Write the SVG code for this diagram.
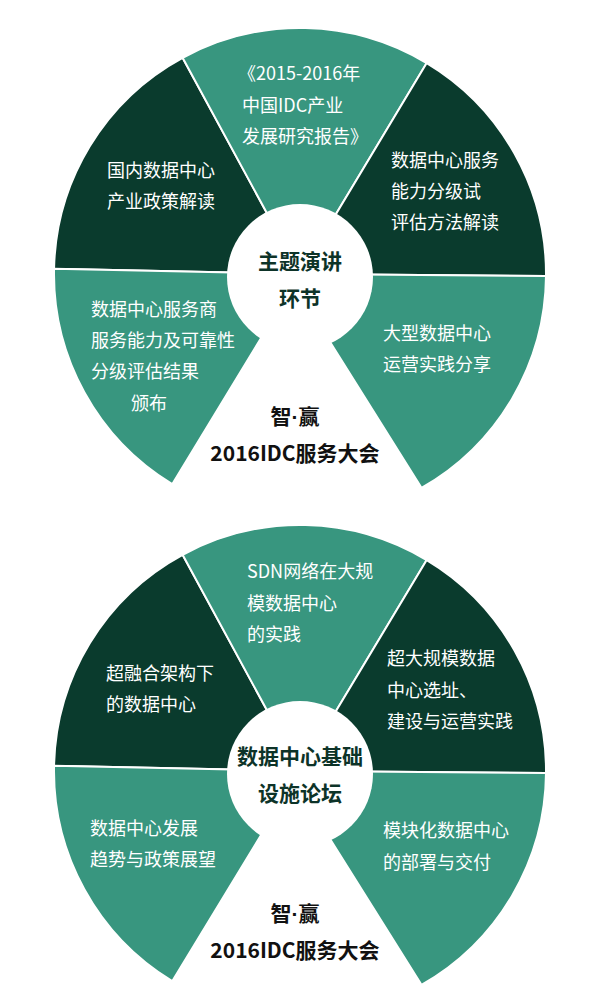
<svg xmlns="http://www.w3.org/2000/svg" width="600" height="1000" viewBox="0 0 600 1000">
<style>
.dark{fill:#0a3b2d;stroke:#fff;stroke-width:2;stroke-linejoin:round}
.teal{fill:#38967f;stroke:#fff;stroke-width:2;stroke-linejoin:round}
.hub{fill:#fff}
.lbl{font-family:"Noto Sans CJK SC","Noto Sans",sans-serif;font-size:18px;fill:#fff}
.hubt{font-family:"Noto Sans CJK SC","Noto Sans",sans-serif;font-size:21px;font-weight:bold;fill:#0d3328;text-anchor:middle}
.title{font-family:"Noto Sans CJK SC","Noto Sans",sans-serif;font-size:21px;font-weight:bold;fill:#111;text-anchor:middle}
.dot{font-family:"Liberation Sans",sans-serif}
</style>
<defs>
<path id="sTL" d="M300,274 L54.05,268.85 A246,246 0 0 1 182.6,57.8 Z"/>
<path id="sT" d="M300,274 L182.6,57.8 A246,246 0 0 1 426.7,63.1 Z"/>
<path id="sTR" d="M300,274 L426.7,63.1 A246,246 0 0 1 546,276.1 Z"/>
<path id="sBR" d="M300,274 L546,276.1 A246,246 0 0 1 421.5,487.9 L318.3,323.4 Z"/>
<path id="sBL" d="M300,274 L172.2,484.2 A246,246 0 0 1 54.05,268.85 Z"/>
</defs>
<g id="connectors"></g>

<g id="wheel1">
<g id="w1-top-left"><use href="#sTL" class="dark"/><text class="lbl" x="107" y="177">国内数据中心</text><text class="lbl" x="107" y="208">产业政策解读</text></g>
<g id="w1-top"><use href="#sT" class="teal"/><text class="lbl" x="238" y="80">《2015-2016年</text><text class="lbl" x="242" y="112">中国IDC产业</text><text class="lbl" x="242" y="143">发展研究报告》</text></g>
<g id="w1-top-right"><use href="#sTR" class="dark"/><text class="lbl" x="391" y="167">数据中心服务</text><text class="lbl" x="391" y="198">能力分级试</text><text class="lbl" x="391" y="229">评估方法解读</text></g>
<g id="w1-bottom-right"><use href="#sBR" class="teal"/><text class="lbl" x="383" y="340">大型数据中心</text><text class="lbl" x="383" y="371">运营实践分享</text></g>
<g id="w1-bottom-left"><use href="#sBL" class="teal"/><text class="lbl" x="91" y="316">数据中心服务商</text><text class="lbl" x="91" y="347">服务能力及可靠性</text><text class="lbl" x="91" y="378">分级评估结果</text><text class="lbl" x="131" y="410">颁布</text></g>
<g id="w1-hub"><circle class="hub" cx="300" cy="277" r="73"/><text class="hubt" x="300" y="269">主题演讲</text><text class="hubt" x="300" y="306">环节</text></g>
<g id="w1-title"><text class="title" x="295" y="424">智<tspan class="dot">·</tspan>赢</text><text class="title" x="295" y="461">2016IDC服务大会</text></g>
</g>

<g id="wheel2">
<g transform="translate(0,497)"><use href="#sTL" class="dark"/><use href="#sT" class="teal"/><use href="#sTR" class="dark"/><use href="#sBR" class="teal"/><use href="#sBL" class="teal"/><circle class="hub" cx="300" cy="277" r="73"/></g>
<g id="w2-top-left"><text class="lbl" x="106" y="680">超融合架构下</text><text class="lbl" x="106" y="711">的数据中心</text></g>
<g id="w2-top"><text class="lbl" x="247" y="578">SDN网络在大规</text><text class="lbl" x="247" y="610">模数据中心</text><text class="lbl" x="247" y="641">的实践</text></g>
<g id="w2-top-right"><text class="lbl" x="387" y="665">超大规模数据</text><text class="lbl" x="387" y="697">中心选址、</text><text class="lbl" x="387" y="728">建设与运营实践</text></g>
<g id="w2-bottom-right"><text class="lbl" x="383" y="837">模块化数据中心</text><text class="lbl" x="383" y="869">的部署与交付</text></g>
<g id="w2-bottom-left"><text class="lbl" x="90" y="835">数据中心发展</text><text class="lbl" x="90" y="866">趋势与政策展望</text></g>
<g id="w2-hub"><text class="hubt" x="300" y="764">数据中心基础</text><text class="hubt" x="300" y="801">设施论坛</text></g>
<g id="w2-title"><text class="title" x="295" y="921">智<tspan class="dot">·</tspan>赢</text><text class="title" x="295" y="958">2016IDC服务大会</text></g>
</g>
</svg>
